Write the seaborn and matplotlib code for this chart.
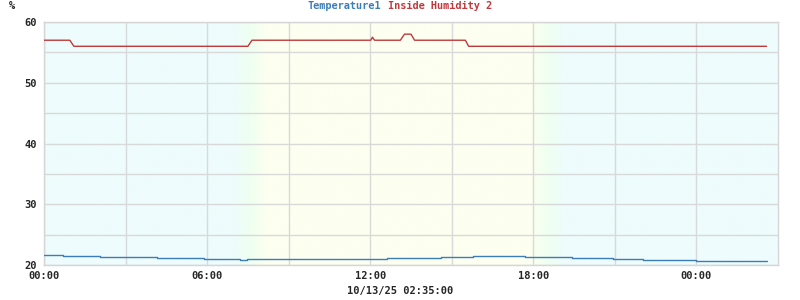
import numpy as np
import pandas as pd
import matplotlib
matplotlib.use("Agg")
import matplotlib.pyplot as plt
import seaborn as sns
from matplotlib.colors import LinearSegmentedColormap

# ---- data (hours since 10/12/25 00:00) ----
temp_hours = [0.0, 0.7, 2.06, 4.15, 5.88, 7.2, 7.45, 12.62, 14.62, 15.79, 17.7, 19.43, 20.93, 22.03, 24.0, 26.58]
temp_values = [21.6, 21.43, 21.27, 21.10, 20.94, 20.77, 20.94, 21.10, 21.27, 21.43, 21.27, 21.10, 20.94, 20.77, 20.61, 20.61]

hum_hours = [0.0, 0.95, 1.1, 7.5, 7.65, 12.02, 12.08, 12.16, 13.11, 13.26, 13.5, 13.63, 15.5, 15.62, 26.58]
hum_values = [57, 57, 56, 56, 57, 57, 57.5, 57, 57, 58, 58, 57, 57, 56, 56]

xtick_pos = [0, 6, 12, 18, 24]
xtick_labels = ["00:00", "06:00", "12:00", "18:00", "00:00"]
ytick_pos = [20, 30, 40, 50, 60]
series_names = ["Temperature1", "Inside Humidity 2"]
x_caption = "10/13/25 02:35:00"
y_unit = "%"

sns.set_theme(style="white")
plt.rcParams['font.family'] = ['DejaVu Sans Mono', 'DejaVu Sans']

fig = plt.figure(figsize=(8, 3), dpi=100)
ax = fig.add_axes([44/800, 1-265/300, (778-44)/800, (265-22)/300])

# day/night background gradient
c_night = "#eefcfd"
c_green = "#eefff0"
c_day = "#fdfff0"
xs = np.linspace(0, 27, 1000)
cmap = LinearSegmentedColormap.from_list("dn", [(0, c_night), (0.5, c_green), (1, c_day)])
v = np.zeros_like(xs)
v = np.where((xs > 6.95) & (xs < 8.2), (xs - 6.95) / 1.25, v)
v = np.where((xs >= 8.2) & (xs <= 17.95), 1.0, v)
v = np.where((xs > 17.95) & (xs < 19.2), 1 - (xs - 17.95) / 1.25, v)
ax.imshow(v[np.newaxis, :], extent=[0, 27, 20, 60], aspect="auto", cmap=cmap,
          vmin=0, vmax=1, zorder=0, interpolation="bilinear")

df_t = pd.DataFrame({"h": temp_hours, "v": temp_values})
df_h = pd.DataFrame({"h": hum_hours, "v": hum_values})
sns.lineplot(data=df_t, x="h", y="v", ax=ax, color="#3b7db9", lw=1.0,
             drawstyle="steps-post", sort=False, zorder=3)
sns.lineplot(data=df_h, x="h", y="v", ax=ax, color="#c0393b", lw=1.0,
             sort=False, zorder=3)

ax.set_xlim(0, 27)
ax.set_ylim(20, 60)
ax.set_xticks(xtick_pos)
ax.set_xticklabels(xtick_labels)
ax.set_xticks([3, 9, 15, 21], minor=True)
ax.set_yticks(ytick_pos)
ax.set_yticks([25, 35, 45, 55], minor=True)
ax.grid(True, which="both", color="#d9d9d9", lw=1.0, zorder=1)
ax.set_axisbelow(True)
for s in ax.spines.values():
    s.set_color("#d6d6d6")
    s.set_linewidth(1.0)
ax.tick_params(which="both", length=0)
ax.tick_params(axis="y", pad=5, labelsize=7.5)
ax.tick_params(axis="x", pad=4, labelsize=7.5)
for lab in ax.get_xticklabels() + ax.get_yticklabels():
    lab.set_fontweight("bold")
ax.set_xlabel("")
ax.set_ylabel("")

fig.text(0.5, 1-291/300, x_caption, ha="center", va="center",
         fontsize=7.5, fontweight="bold")
fig.text(12/800, 1-6/300, y_unit, ha="center", va="center", fontsize=7.5, fontweight="bold")
fig.text(381/800, 1-6/300, series_names[0], ha="right", va="center",
         fontsize=7.4, fontweight="bold", color="#3b7db9")
fig.text(388/800, 1-6/300, series_names[1], ha="left", va="center",
         fontsize=7.4, fontweight="bold", color="#c0393b")

fig.savefig("out.png", dpi=100)
